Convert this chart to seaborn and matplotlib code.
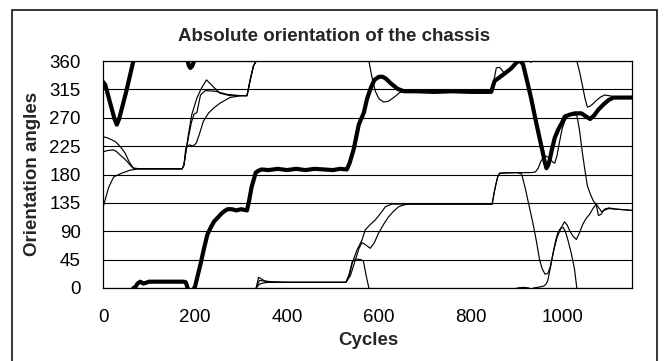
import numpy as np
import pandas as pd
import matplotlib
matplotlib.use("Agg")
import matplotlib.pyplot as plt
from matplotlib.patches import Rectangle
import seaborn as sns

# Orientation traces (degrees, wrapped to 0-360). None marks a wrap-around break.
chassis_cycles = [0, 5, 15, 25, 30, 35, 50, 66, None,
                  66, 70, 75, 81, 88, 100, 120, 140, 160, 175, 180, 184, None,
                  184, 187, 190, 194, 198, None,
                  198, 200, 206, 212, 220, 227, 235, 242, 250, 256, 264, 271, 280, 290, 300, 313,
                  318, 323, 327, 332, 338, 345, 360, 380, 400, 420, 440, 460, 480, 500, 515, 530,
                  536, 545, 556, 567, 574, 582, 590, 600, 608, 615, 625, 640, 654, 680, 720, 760,
                  800, 844, 851, 860, 873, 887, 902, 908, 913, 922, 931, 940, 949, 956, 960, 964,
                  968, 971, 976, 982, 990, 997, 1004, 1015, 1026, 1040, 1050, 1059, 1068, 1077,
                  1088, 1099, 1110, 1130, 1150]
chassis_angles = [327, 322, 295, 268, 259, 268, 310, 360, None,
                  0, 1, 7, 10, 7, 10, 10, 10, 10, 10, 9, 0, None,
                  360, 352, 349, 352, 360, None,
                  0, 2, 20, 38, 64, 85, 97, 106, 112, 117, 122, 125, 125, 123, 125, 123,
                  140, 160, 170, 183, 186, 188, 187, 189, 187, 189, 187, 189, 188, 187, 189, 188,
                  198, 220, 259, 278, 300, 317, 330, 335, 335, 332, 325, 316, 312, 312, 311, 312,
                  311, 311, 328, 333, 340, 348, 360, 359, 355, 328, 300, 268, 238, 215, 201, 190,
                  195, 203, 220, 238, 252, 261, 272, 275, 277, 277, 272, 268, 274, 283,
                  291, 298, 302, 302, 302]

sensor_a_cycles = [0, 10, 19, 27, 34, 41, 48, 57, 66, 80, 120, 172, 176, 180, 186, 193, 204,
                   214, 225, 240, 254, 276, 300, 313, 320, 327, 333, None,
                   333, 338, 345, 352, 360, 400, 450, 500, 528, 535, 542, 550, 560, 566, 572,
                   578, None,
                   578, 585, 592, 600, 610, 620, 632, 645, 655, 700, 760, 846, 850, 855, 862,
                   868, 873, 887, 900, None,
                   900, 915, 926, None,
                   926, 930, 936, None,
                   936, 945, 958, 963, 967, 972, 978, 984, 989, 995, 1000, 1005, 1010, 1018,
                   1025, 1030, None,
                   1030, 1036, 1042, 1048, 1053, 1058, 1065, 1072, 1080, 1090, 1100, 1115,
                   1130, 1150]
sensor_a_angles = [240, 238, 235, 232, 227, 221, 214, 200, 190, 189, 189, 189, 195, 215, 245,
                   275, 301, 317, 330, 319, 309, 305, 305, 305, 330, 352, 360, None,
                   0, 17, 14, 11, 9, 9, 9, 9, 9, 22, 42, 46, 45, 43, 20,
                   0, None,
                   360, 333, 312, 300, 295, 296, 302, 310, 312, 312, 312, 312, 330, 349, 350,
                   345, 340, 348, 360, None,
                   0, 1, 0, None,
                   360, 358, 360, None,
                   0, 1, 3, 6, 12, 30, 54, 75, 88, 95, 96, 90, 78, 55,
                   30, 0, None,
                   360, 343, 322, 300, 287, 288, 292, 297, 302, 306, 305, 303,
                   302, 302]

sensor_b_cycles = [0, 10, 23, 30, 37, 45, 52, 60, 66, 80, 120, 172, 176, 180, 186, 192, 198,
                   204, 208, 212, 222, 245, 270, 300, 313, 320, 327, 333, None,
                   333, 340, 348, 360, 400, 450, 500, 528, 535, 542, 552, 563, 570, 580, 592,
                   603, 614, 628, 645, 700, 760, 846, 850, 854, 858, 862, 880, 900, 910, 918,
                   927, 934, 942, 949, 955, 961, 967, 973, 980, 987, 995, 1003, 1009, 1015,
                   1022, 1029, 1036, 1043, 1050, 1058, 1065, 1072, 1078, 1084, 1092, 1100, 1116,
                   1135, 1150]
sensor_b_angles = [216, 218, 219, 216, 211, 206, 201, 194, 190, 189, 189, 189, 195, 215, 240,
                   262, 276, 278, 292, 306, 313, 312, 307, 305, 305, 330, 352, 360, None,
                   0, 6, 8, 9, 9, 9, 9, 9, 18, 40, 60, 76, 92, 100, 108,
                   118, 129, 133, 133, 133, 133, 133, 150, 164, 176, 182, 183, 183, 181, 158,
                   128, 105, 75, 45, 30, 22, 23, 35, 60, 80, 94, 105, 100, 90,
                   82, 77, 88, 101, 110, 117, 126, 133, 127, 121, 124, 126, 125,
                   124, 123]

sensor_c_cycles = [0, 4, 12, 23, 37, 59, 80, 120, 172, 176, 180, 188, 196, 203, 210, 218, 229,
                   240, 254, 276, 300, 313, 320, 327, 333, None,
                   333, 340, 352, 367, 400, 450, 500, 528, 538, 548, 556, 563, 572, 581, 590,
                   599, 610, 621, 632, 643, 655, 664, 720, 780, 846, 850, 854, 858, 862, 900,
                   930, 940, 946, 952, 960, 966, 971, 977, 982, 987, 992, 998, 1004, 1010, 1020,
                   1030, 1036, 1042, 1048, 1053, 1060, 1066, 1072, 1077, 1083, 1090, 1100, 1116,
                   1135, 1150]
sensor_c_angles = [128, 138, 159, 176, 181, 187, 189, 189, 189, 195, 222, 227, 225, 230, 245,
                   264, 277, 285, 293, 302, 305, 305, 330, 352, 360, None,
                   0, 12, 11, 10, 9, 9, 9, 9, 20, 43, 62, 72, 68, 63, 72,
                   87, 101, 113, 122, 129, 132, 133, 133, 133, 133, 150, 164, 176, 182, 183,
                   183, 184, 190, 201, 210, 208, 206, 200, 198, 210, 230, 252, 265, 272, 275,
                   274, 250, 215, 185, 162, 148, 138, 133, 115, 117, 125, 127, 125,
                   124, 123]

x_ticks = [0, 200, 400, 600, 800, 1000]
y_ticks = [0, 45, 90, 135, 180, 225, 270, 315, 360]


def to_frame(cycles, angles):
    """Split a trace into separate segments at None breaks."""
    seg, rows = 0, []
    for c, a in zip(cycles, angles):
        if a is None or c is None:
            seg += 1
            continue
        rows.append((c, a, seg))
    return pd.DataFrame(rows, columns=["cycle", "angle", "segment"])


sns.set_style("white")
plt.rcParams["font.family"] = ["Liberation Sans", "DejaVu Sans"]

W, H = 664, 361
fig = plt.figure(figsize=(W / 100, H / 100), dpi=100)
ax = fig.add_axes([103 / W, 1 - 288 / H, (632 - 103) / W, (288 - 61) / H])

ax.set_axisbelow(True)
ax.yaxis.grid(True, color="black", linewidth=0.8)
ax.xaxis.grid(False)

for cyc, ang in [(sensor_a_cycles, sensor_a_angles),
                 (sensor_b_cycles, sensor_b_angles),
                 (sensor_c_cycles, sensor_c_angles)]:
    sns.lineplot(data=to_frame(cyc, ang), x="cycle", y="angle", units="segment",
                 estimator=None, sort=False, color="black", linewidth=0.85, ax=ax)

sns.lineplot(data=to_frame(chassis_cycles, chassis_angles), x="cycle", y="angle",
             units="segment", estimator=None, sort=False, color="black",
             linewidth=3.0, ax=ax)

ax.set_xlim(0, 1150)
ax.set_ylim(0, 360)
ax.set_xticks(x_ticks)
ax.set_yticks(y_ticks)
ax.set_xlabel("")
ax.set_ylabel("")
for s in ax.spines.values():
    s.set_color("black")
    s.set_linewidth(0.9)
ax.tick_params(axis="both", direction="out", length=4, width=0.8, color="black",
               labelsize=13.5, labelcolor="black")
ax.tick_params(axis="y", pad=12)
ax.tick_params(axis="x", pad=11)

fig.text(334 / W, 1 - 41 / H, "Absolute orientation of the chassis", ha="center",
         va="baseline", fontsize=13.5, fontweight="bold")
fig.text(33 / W, 1 - 174 / H, "Orientation angles", ha="center", va="center",
         rotation=90, fontsize=13.5, fontweight="bold")
fig.text(368 / W, 1 - 345 / H, "Cycles", ha="center", va="baseline",
         fontsize=13.5, fontweight="bold")

# chart-area frame
fig.patches.append(Rectangle((12 / W, -0.05), (657 - 12) / W, 1.05 - 10 / H,
                             transform=fig.transFigure, fill=False,
                             edgecolor="black", linewidth=1.1))

fig.savefig("out.png", dpi=100, facecolor="white")
